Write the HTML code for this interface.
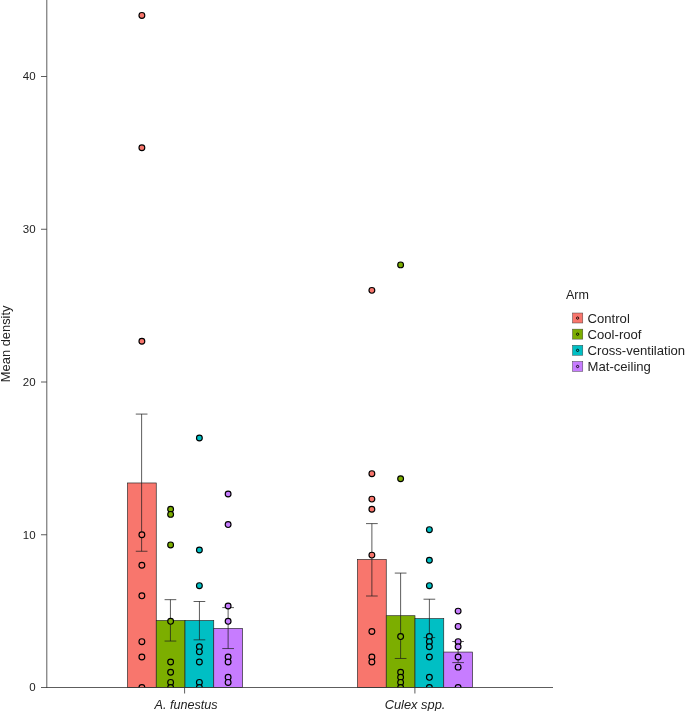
<!DOCTYPE html>
<html lang="en"><head><meta charset="utf-8"><title>Mean density by arm</title>
<style>
html,body{margin:0;padding:0;background:#fff;}
body{width:685px;height:711px;overflow:hidden;}
svg{display:block;}
text{font-family:"Liberation Sans",Arial,Helvetica,sans-serif;fill:#222;}
.ax{stroke:#333;stroke-width:0.8;fill:none;}
.bar{stroke:#222;stroke-width:0.65;}
.err{stroke:#1c1c1c;stroke-width:0.72;fill:none;}
.pt{stroke:#000;stroke-width:1.15;}
.tick{font-size:11.5px;text-anchor:end;}
.cat{font-size:12.6px;text-anchor:middle;font-style:italic;}
.leg{font-size:13.1px;}
.ttl{font-size:12.5px;}
.yl{font-size:12.9px;text-anchor:middle;}
</style></head><body>
<svg width="685" height="711" viewBox="0 0 685 711">
<rect x="0" y="0" width="685" height="711" fill="#fff"/>
<rect class="bar" x="127.50" y="482.97" width="28.75" height="204.53" fill="#F8766D"/>
<rect class="bar" x="156.25" y="620.52" width="28.75" height="66.98" fill="#7CAE00"/>
<rect class="bar" x="185.00" y="620.52" width="28.75" height="66.98" fill="#00BFC4"/>
<rect class="bar" x="213.75" y="628.39" width="28.75" height="59.11" fill="#C77CFF"/>
<rect class="bar" x="357.50" y="559.50" width="28.75" height="128.00" fill="#F8766D"/>
<rect class="bar" x="386.25" y="615.71" width="28.75" height="71.79" fill="#7CAE00"/>
<rect class="bar" x="415.00" y="618.61" width="28.75" height="68.89" fill="#00BFC4"/>
<rect class="bar" x="443.75" y="652.06" width="28.75" height="35.44" fill="#C77CFF"/>
<path class="err" d="M135.78 414.08H147.47M141.62 414.08V551.25M135.78 551.25H147.47"/>
<path class="err" d="M164.58 599.67H176.28M170.43 599.67V641.06M164.58 641.06H176.28"/>
<path class="err" d="M193.58 601.50H205.28M199.43 601.50V639.84M193.58 639.84H205.28"/>
<path class="err" d="M222.28 607.61H233.97M228.12 607.61V648.55M222.28 648.55H233.97"/>
<path class="err" d="M366.02 523.60H377.73M371.88 523.60V596.00M366.02 596.00H377.73"/>
<path class="err" d="M394.77 573.09H406.48M400.62 573.09V658.48M394.77 658.48H406.48"/>
<path class="err" d="M423.52 599.21H435.23M429.38 599.21V637.55M423.52 637.55H435.23"/>
<path class="err" d="M452.27 641.52H463.98M458.12 641.52V662.60M452.27 662.60H463.98"/>
<clipPath id="panel"><rect x="46.80" y="0" width="506.20" height="687.50"/></clipPath>
<g clip-path="url(#panel)">
<circle class="pt" cx="141.88" cy="15.40" r="2.90" fill="#F8766D"/>
<circle class="pt" cx="141.88" cy="147.78" r="2.90" fill="#F8766D"/>
<circle class="pt" cx="141.88" cy="341.27" r="2.90" fill="#F8766D"/>
<circle class="pt" cx="141.88" cy="534.75" r="2.90" fill="#F8766D"/>
<circle class="pt" cx="141.88" cy="565.30" r="2.90" fill="#F8766D"/>
<circle class="pt" cx="141.88" cy="595.85" r="2.90" fill="#F8766D"/>
<circle class="pt" cx="141.88" cy="641.67" r="2.90" fill="#F8766D"/>
<circle class="pt" cx="141.88" cy="656.95" r="2.90" fill="#F8766D"/>
<circle class="pt" cx="141.88" cy="687.50" r="2.90" fill="#F8766D"/>
<circle class="pt" cx="170.62" cy="509.29" r="2.90" fill="#7CAE00"/>
<circle class="pt" cx="170.62" cy="514.38" r="2.90" fill="#7CAE00"/>
<circle class="pt" cx="170.62" cy="544.93" r="2.90" fill="#7CAE00"/>
<circle class="pt" cx="170.62" cy="621.31" r="2.90" fill="#7CAE00"/>
<circle class="pt" cx="170.62" cy="662.04" r="2.90" fill="#7CAE00"/>
<circle class="pt" cx="170.62" cy="672.23" r="2.90" fill="#7CAE00"/>
<circle class="pt" cx="170.62" cy="682.41" r="2.90" fill="#7CAE00"/>
<circle class="pt" cx="170.62" cy="687.50" r="2.90" fill="#7CAE00"/>
<circle class="pt" cx="199.38" cy="438.01" r="2.90" fill="#00BFC4"/>
<circle class="pt" cx="199.38" cy="550.02" r="2.90" fill="#00BFC4"/>
<circle class="pt" cx="199.38" cy="585.67" r="2.90" fill="#00BFC4"/>
<circle class="pt" cx="199.38" cy="646.77" r="2.90" fill="#00BFC4"/>
<circle class="pt" cx="199.38" cy="651.86" r="2.90" fill="#00BFC4"/>
<circle class="pt" cx="199.38" cy="662.04" r="2.90" fill="#00BFC4"/>
<circle class="pt" cx="199.38" cy="682.41" r="2.90" fill="#00BFC4"/>
<circle class="pt" cx="199.38" cy="687.50" r="2.90" fill="#00BFC4"/>
<circle class="pt" cx="228.12" cy="494.02" r="2.90" fill="#C77CFF"/>
<circle class="pt" cx="228.12" cy="524.57" r="2.90" fill="#C77CFF"/>
<circle class="pt" cx="228.12" cy="606.03" r="2.90" fill="#C77CFF"/>
<circle class="pt" cx="228.12" cy="621.31" r="2.90" fill="#C77CFF"/>
<circle class="pt" cx="228.12" cy="656.95" r="2.90" fill="#C77CFF"/>
<circle class="pt" cx="228.12" cy="662.04" r="2.90" fill="#C77CFF"/>
<circle class="pt" cx="228.12" cy="677.32" r="2.90" fill="#C77CFF"/>
<circle class="pt" cx="228.12" cy="682.41" r="2.90" fill="#C77CFF"/>
<circle class="pt" cx="371.88" cy="290.35" r="2.90" fill="#F8766D"/>
<circle class="pt" cx="371.88" cy="473.65" r="2.90" fill="#F8766D"/>
<circle class="pt" cx="371.88" cy="499.11" r="2.90" fill="#F8766D"/>
<circle class="pt" cx="371.88" cy="509.29" r="2.90" fill="#F8766D"/>
<circle class="pt" cx="371.88" cy="555.12" r="2.90" fill="#F8766D"/>
<circle class="pt" cx="371.88" cy="631.49" r="2.90" fill="#F8766D"/>
<circle class="pt" cx="371.88" cy="656.95" r="2.90" fill="#F8766D"/>
<circle class="pt" cx="371.88" cy="662.04" r="2.90" fill="#F8766D"/>
<circle class="pt" cx="400.62" cy="264.89" r="2.90" fill="#7CAE00"/>
<circle class="pt" cx="400.62" cy="478.74" r="2.90" fill="#7CAE00"/>
<circle class="pt" cx="400.62" cy="636.58" r="2.90" fill="#7CAE00"/>
<circle class="pt" cx="400.62" cy="672.23" r="2.90" fill="#7CAE00"/>
<circle class="pt" cx="400.62" cy="677.32" r="2.90" fill="#7CAE00"/>
<circle class="pt" cx="400.62" cy="682.41" r="2.90" fill="#7CAE00"/>
<circle class="pt" cx="400.62" cy="687.50" r="2.90" fill="#7CAE00"/>
<circle class="pt" cx="429.38" cy="529.66" r="2.90" fill="#00BFC4"/>
<circle class="pt" cx="429.38" cy="560.21" r="2.90" fill="#00BFC4"/>
<circle class="pt" cx="429.38" cy="585.67" r="2.90" fill="#00BFC4"/>
<circle class="pt" cx="429.38" cy="636.58" r="2.90" fill="#00BFC4"/>
<circle class="pt" cx="429.38" cy="641.67" r="2.90" fill="#00BFC4"/>
<circle class="pt" cx="429.38" cy="646.77" r="2.90" fill="#00BFC4"/>
<circle class="pt" cx="429.38" cy="656.95" r="2.90" fill="#00BFC4"/>
<circle class="pt" cx="429.38" cy="677.32" r="2.90" fill="#00BFC4"/>
<circle class="pt" cx="429.38" cy="687.50" r="2.90" fill="#00BFC4"/>
<circle class="pt" cx="458.12" cy="611.12" r="2.90" fill="#C77CFF"/>
<circle class="pt" cx="458.12" cy="626.40" r="2.90" fill="#C77CFF"/>
<circle class="pt" cx="458.12" cy="641.67" r="2.90" fill="#C77CFF"/>
<circle class="pt" cx="458.12" cy="646.77" r="2.90" fill="#C77CFF"/>
<circle class="pt" cx="458.12" cy="656.95" r="2.90" fill="#C77CFF"/>
<circle class="pt" cx="458.12" cy="667.13" r="2.90" fill="#C77CFF"/>
<circle class="pt" cx="458.12" cy="687.50" r="2.90" fill="#C77CFF"/>
</g>
<path class="ax" d="M46.80 0V687.90"/>
<path class="ax" d="M46.40 687.50H553.00"/>
<path class="ax" d="M41.00 687.50H46.80"/>
<text class="tick" x="35.6" y="691.45">0</text>
<path class="ax" d="M41.00 534.75H46.80"/>
<text class="tick" x="35.6" y="538.70">10</text>
<path class="ax" d="M41.00 382.00H46.80"/>
<text class="tick" x="35.6" y="385.95">20</text>
<path class="ax" d="M41.00 229.25H46.80"/>
<text class="tick" x="35.6" y="233.20">30</text>
<path class="ax" d="M41.00 76.50H46.80"/>
<text class="tick" x="35.6" y="80.45">40</text>
<path class="ax" d="M184.60 687.50V693.50"/>
<path class="ax" d="M414.90 687.50V693.50"/>
<text class="cat" x="186.0" y="708.7">A. funestus</text>
<text class="cat" style="font-size:12.85px" x="415.0" y="708.7">Culex spp.</text>
<text class="yl" transform="translate(9.9 343.85) rotate(-90)">Mean density</text>
<text class="ttl" x="566" y="298.9">Arm</text>
<rect x="572.5" y="313.00" width="10.3" height="10.0" fill="#F8766D" stroke="#3a3a3a" stroke-width="0.45"/>
<circle cx="577.6" cy="318.10" r="1.15" fill="#F8766D" stroke="#000" stroke-width="0.85"/>
<text class="leg" x="587.6" y="322.80">Control</text>
<rect x="572.5" y="329.13" width="10.3" height="10.0" fill="#7CAE00" stroke="#3a3a3a" stroke-width="0.45"/>
<circle cx="577.6" cy="334.23" r="1.15" fill="#7CAE00" stroke="#000" stroke-width="0.85"/>
<text class="leg" x="587.6" y="338.87">Cool-roof</text>
<rect x="572.5" y="345.26" width="10.3" height="10.0" fill="#00BFC4" stroke="#3a3a3a" stroke-width="0.45"/>
<circle cx="577.6" cy="350.36" r="1.15" fill="#00BFC4" stroke="#000" stroke-width="0.85"/>
<text class="leg" x="587.6" y="354.94">Cross-ventilation</text>
<rect x="572.5" y="361.39" width="10.3" height="10.0" fill="#C77CFF" stroke="#3a3a3a" stroke-width="0.45"/>
<circle cx="577.6" cy="366.49" r="1.15" fill="#C77CFF" stroke="#000" stroke-width="0.85"/>
<text class="leg" x="587.6" y="371.01">Mat-ceiling</text>
</svg>
</body></html>
